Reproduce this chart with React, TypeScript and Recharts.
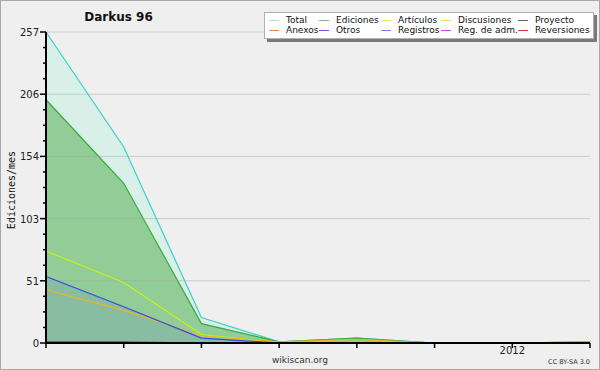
import { ComposedChart, Area, Line, XAxis, YAxis, ReferenceLine } from 'recharts';

const months = ['2011-07', '2011-08', '2011-09', '2011-10', '2011-11', '2011-12', '2012-01', '2012-02'];
const total = [257, 162, 21, 1, 4, 0, 0, 1];
const ediciones = [201, 132, 16, 1, 4, 0, 0, 1];
const articulos = [76, 50, 7, 0, 0, 0, 0, 0];
const discusiones = [44, 27, 6, 1, 3, 0, 0, 1];
const registros = [55, 30, 4, 0, 0, 0, 0, 0];
const proyecto = [1, 1, 0, 0, 0, 0, 0, 0];

const yMax = 257;
const yTicks = Array.from({ length: 21 }, (_, i) => (yMax * i) / 20);
const yMajor = yTicks.filter((_, i) => i % 4 === 0);

const legendItems = [
  { name: 'Total', color: '#a8e4e0' },
  { name: 'Ediciones', color: '#78c078' },
  { name: 'Artículos', color: '#d4f068' },
  { name: 'Discusiones', color: '#f6d468' },
  { name: 'Proyecto', color: '#686868' },
  { name: 'Anexos', color: '#f08848' },
  { name: 'Otros', color: '#8848d8' },
  { name: 'Registros', color: '#7878f0' },
  { name: 'Reg. de adm.', color: '#d048e0' },
  { name: 'Reversiones', color: '#e03838' },
];
const legendCols = [4, 54, 116, 176, 253];

const data = months.map((m, i) => ({
  month: m,
  total: total[i],
  ediciones: ediciones[i],
  articulos: articulos[i],
  discusiones: discusiones[i],
  registros: registros[i],
  proyecto: proyecto[i],
}));

const font = '"DejaVu Sans", sans-serif';

function YTick(props: any) {
  const { x, y, payload, index } = props;
  const major = index % 4 === 0;
  return (
    <g>
      <line x1={x - (major ? 6 : 3)} x2={x} y1={y} y2={y} stroke="#000" strokeWidth={1.5} />
      {major && (
        <text x={x - 7} y={y} dy={4} textAnchor="end" fontSize={10} fill="#222" fontFamily={font}>
          {Math.round(payload.value)}
        </text>
      )}
    </g>
  );
}

function XTick(props: any) {
  const { x, y, payload } = props;
  const label = payload.value.endsWith('-01') ? payload.value.slice(0, 4) : '';
  return (
    <g>
      <line x1={x} x2={x} y1={y} y2={y + 5} stroke="#000" strokeWidth={1.5} />
      {label && (
        <text x={x} y={y + 11} textAnchor="middle" fontSize={10} fill="#222" fontFamily={font}>
          {label}
        </text>
      )}
    </g>
  );
}

function LegendBox() {
  return (
    <div style={{ position: 'absolute', left: 263, top: 11, width: 333, height: 30 }}>
      <div style={{ position: 'absolute', left: 3, top: 3, width: 330, height: 27, background: '#7a7a7a' }} />
      <div style={{ position: 'absolute', left: 0, top: 0, width: 328, height: 25, background: '#fff', border: '1px solid #b0b0b0' }}>
        {legendItems.map((it, i) => {
          const col = i % 5;
          const row = Math.floor(i / 5);
          return (
            <div
              key={it.name}
              style={{
                position: 'absolute',
                left: legendCols[col],
                top: row * 10 + 2,
                display: 'flex',
                alignItems: 'center',
                fontFamily: font,
                fontSize: 9,
                lineHeight: '10px',
                color: '#111',
                whiteSpace: 'nowrap',
              }}
            >
              <span style={{ display: 'inline-block', width: 10, height: 1, background: it.color, marginRight: 7 }} />
              {it.name}
            </div>
          );
        })}
      </div>
    </div>
  );
}

export default function App() {
  return (
    <div style={{ position: 'absolute', left: 0, top: 0, width: 600, height: 370, background: '#efefef', boxSizing: 'border-box', border: '1px solid #a8a8a8' }}>
      <div style={{ position: 'absolute', left: 0, top: 0 }}>
        <ComposedChart width={598} height={368} data={data} margin={{ top: 31, right: 9, bottom: 0, left: 0 }}>
          <XAxis
            dataKey="month"
            interval={0}
            tick={<XTick />}
            tickLine={false}
            tickSize={0}
            tickMargin={0}
            axisLine={{ stroke: '#000', strokeWidth: 2 }}
            height={26}
          />
          <YAxis
            domain={[0, yMax]}
            ticks={yTicks}
            interval={0}
            tick={<YTick />}
            tickLine={false}
            tickSize={0}
            tickMargin={0}
            axisLine={{ stroke: '#000', strokeWidth: 2 }}
            width={45}
          />
          <Area type="linear" dataKey="total" stroke="#3ad0cc" strokeWidth={1.2} fill="#d8f0e8" fillOpacity={1} isAnimationActive={false} dot={false} />
          <Area type="linear" dataKey="ediciones" stroke="#3aaa3a" strokeWidth={1.2} fill="#92cc96" fillOpacity={1} isAnimationActive={false} dot={false} />
          <Area type="linear" dataKey="registros" stroke="none" fill="#6a90c8" fillOpacity={0.25} isAnimationActive={false} dot={false} />
          {yMajor.slice(1).map((v) => (
            <ReferenceLine key={v} y={v} stroke="#a0a0a0" strokeOpacity={0.45} />
          ))}
          <Line type="linear" dataKey="articulos" stroke="#c4f414" strokeWidth={1.2} dot={false} isAnimationActive={false} />
          <Line type="linear" dataKey="discusiones" stroke="#eab818" strokeWidth={1.2} dot={false} isAnimationActive={false} />
          <Line type="linear" dataKey="registros" stroke="#3446f0" strokeWidth={1.2} dot={false} isAnimationActive={false} />
          <Line type="linear" dataKey="proyecto" stroke="#505860" strokeWidth={1.2} dot={false} isAnimationActive={false} />
        </ComposedChart>
      </div>
      <LegendBox />
      <div style={{ position: 'absolute', left: 60, width: 115, top: 9, textAlign: 'center', fontFamily: font, fontWeight: 'bold', fontSize: 12, color: '#111' }}>
        Darkus 96
      </div>
      <div style={{ position: 'absolute', left: 10, top: 189, transform: 'translate(-50%, -50%) rotate(-90deg)', fontFamily: '"DejaVu Sans Mono", monospace', fontSize: 10, color: '#111', whiteSpace: 'nowrap' }}>
        Ediciones/mes
      </div>
      <div style={{ position: 'absolute', left: 0, width: 598, top: 354, textAlign: 'center', fontFamily: font, fontSize: 9, color: '#333' }}>
        wikiscan.org
      </div>
      <div style={{ position: 'absolute', right: 9, top: 357, fontFamily: font, fontSize: 6.5, color: '#333' }}>
        CC BY-SA 3.0
      </div>
    </div>
  );
}
